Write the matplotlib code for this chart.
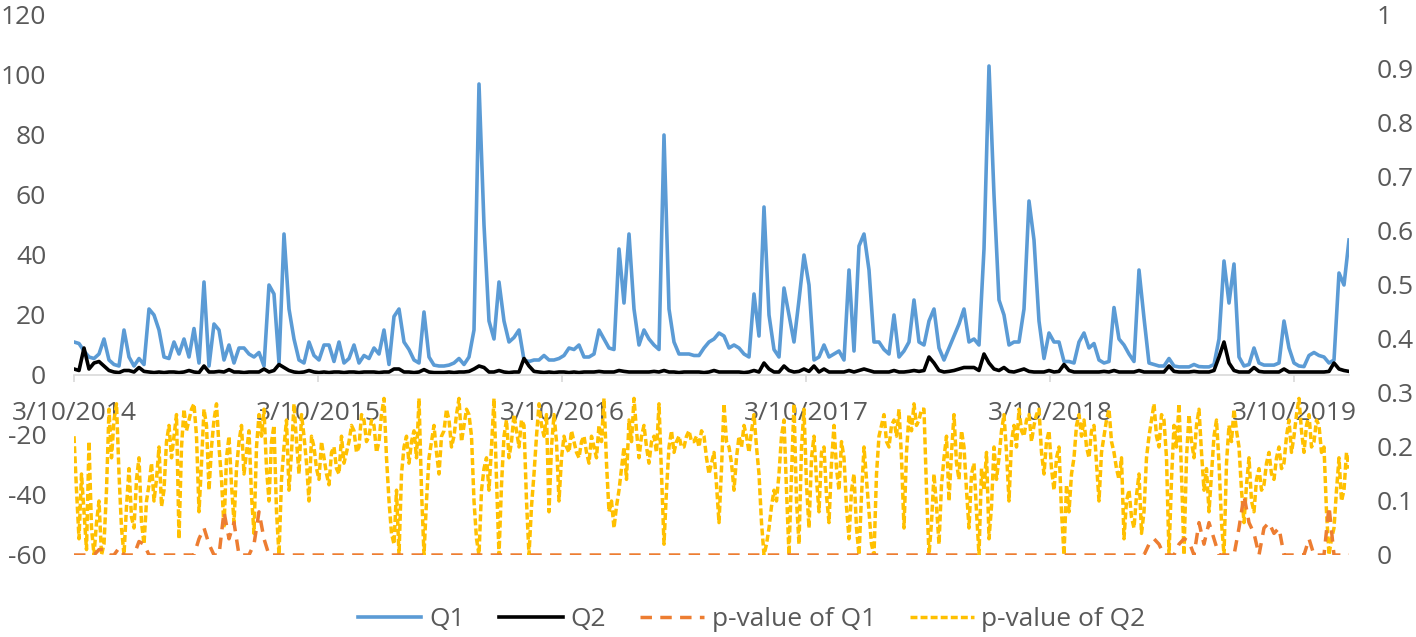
import numpy as np
import matplotlib
matplotlib.use('Agg')
import matplotlib.pyplot as plt

plt.rcParams['font.family'] = ['Open Sans', 'DejaVu Sans']
plt.rcParams['axes.unicode_minus'] = False

# valores (un punto cada ~5 px)
q1 = [11, 10.5, 8, 6, 5.5, 7, 12, 5, 3.5, 3,
      15, 6, 3, 5.5, 3.5, 22, 20, 15, 6, 5.5,
      11, 7, 12, 6, 15.5, 4, 31, 3, 17, 15,
      5, 10, 4, 9, 9, 7, 6, 7.5, 3, 30,
      27, 4, 47, 22, 12, 5, 4, 11, 6.5, 5,
      10, 10, 4.5, 11, 4, 5.5, 10, 4, 6.5, 5.5,
      9, 7, 15, 3.5, 19.5, 22, 11, 8.5, 5, 4,
      21, 6, 3.3, 3, 3, 3.3, 4, 5.5, 3.5, 6,
      15, 97, 50, 18, 12, 31, 18, 11, 12.5, 15,
      5, 4.5, 5, 5, 6.5, 5, 5, 5.5, 6.5, 9,
      8.5, 10, 6, 6, 7, 15, 12, 9, 8.5, 42,
      24, 47, 22, 10, 15, 12, 10, 8.5, 80, 22,
      11, 7, 7, 7, 6.5, 6.5, 9, 11, 12, 14,
      13, 9, 10, 9, 7, 6, 27, 13, 56, 20,
      8.5, 6, 29, 20, 11, 25, 40, 30, 5, 6,
      10, 6, 7, 8, 5, 35, 8, 43, 47, 35,
      11, 11, 8.5, 7, 20, 6, 8, 11, 25, 11,
      10, 18, 22, 9, 5, 9, 13, 17, 22, 11,
      12, 10, 42, 103, 60, 25, 20, 10, 11, 11,
      22, 58, 45, 18, 5.5, 14, 11, 11, 4.5, 4.5,
      4, 11, 14, 9, 10.5, 5, 4, 4.5, 22.5, 12,
      10, 7, 4.5, 35, 19, 4, 3.5, 3, 3, 5.5,
      3, 2.7, 2.7, 2.7, 3.5, 2.8, 2.7, 2.7, 3.5, 12,
      38, 24, 37, 6, 3, 3.5, 9, 4, 3.3, 3.3,
      3.3, 4, 18, 9, 4, 3, 2.8, 6.5, 7.5, 6.5,
      6, 4, 5, 34, 30, 45]

q2 = [2, 1.5, 9, 2, 4, 4.5, 3, 1.5, 1, 0.8,
      1.5, 1.5, 1, 2.5, 1.2, 1, 0.8, 1, 0.8, 1,
      1, 0.8, 1, 1.5, 1, 0.8, 3, 1, 1, 1.2,
      1, 1.8, 1, 1, 0.8, 1, 1, 1, 2, 1,
      1.5, 3.5, 2.5, 1.5, 1, 0.8, 1, 1.5, 1, 0.8,
      1, 0.8, 1, 1, 0.8, 1, 1, 0.8, 1, 1,
      1, 0.8, 1, 1, 2, 2, 1, 1, 0.8, 1,
      1.8, 1, 0.8, 0.8, 0.8, 1, 0.8, 1, 1, 1.2,
      2, 3, 2.5, 1, 1, 1.5, 1, 0.8, 1, 1,
      5.5, 3, 1.2, 1, 0.8, 1, 0.8, 1, 1, 0.8,
      1, 0.8, 1, 1, 1, 1.2, 1, 1, 1, 1.5,
      1.2, 1, 1, 1, 1, 1, 1.2, 1, 1.5, 1,
      1, 0.8, 1, 1, 1, 1, 0.8, 1, 1.5, 1,
      1, 1, 1, 1, 0.8, 1, 1.5, 1, 4, 2,
      1, 1, 3, 1.5, 1, 1.2, 2, 1.2, 3, 1,
      2, 1, 1, 1, 1, 1.5, 1, 1.5, 2, 1.5,
      1, 1, 1, 1, 1.5, 1, 1, 1.2, 1.5, 1.2,
      1.5, 6, 4, 1.5, 1, 1.2, 1.5, 2, 2.5, 2.5,
      2.5, 1.5, 7, 4, 2, 1.5, 2.5, 1.2, 1, 1.5,
      2, 1.2, 1, 1, 1, 1.5, 1, 1.2, 3.5, 1.5,
      1, 1, 1, 1, 1, 1, 1.2, 1, 1.5, 1,
      1, 1, 1, 1.5, 1, 1, 1, 1, 1, 3,
      1.2, 1, 1, 1, 1.2, 1, 1, 1, 1.5, 6,
      11, 4, 1.5, 1, 1, 1, 2.5, 1.2, 1, 1,
      1, 1, 2, 1, 1, 1, 1, 1, 1, 1,
      1, 1.2, 4, 2, 1.5, 1.2]

p_q1 = ([0, 0, 0, 0, 0, 0.01, 0.01, 0, 0, 0.013,
         0, 0, 0, 0.025, 0.02, 0, 0, 0, 0, 0,
         0, 0, 0, 0, 0, 0.03, 0.05, 0.02, 0, 0,
         0.08, 0.03, 0.06, 0, 0, 0, 0.02, 0.08, 0.03, 0]
        + [0.0] * 170
        + [0, 0, 0, 0, 0, 0.02, 0.03, 0.02, 0, 0,
           0, 0.02, 0.03, 0.025, 0, 0.06, 0.02, 0.06, 0.03, 0,
           0, 0, 0, 0.05, 0.11, 0.06, 0.04, 0, 0.05, 0.06,
           0.04, 0.05, 0, 0, 0, 0, 0, 0.03, 0, 0,
           0, 0.09, 0, 0, 0, 0])

# p-value de Q2: mas denso (un punto cada ~2.5 px)
p_q2 = [0.22, 0.12, 0.03, 0.15, 0.08, 0.01, 0.21, 0.05, 0.00, 0.06, 0.10, 0.00, 0.02, 0.12, 0.27, 0.18, 0.25, 0.28, 0.15, 0.05,
        0.00, 0.09, 0.16, 0.07, 0.05, 0.14, 0.18, 0.06, 0.02, 0.10, 0.13, 0.17, 0.10, 0.14, 0.20, 0.09, 0.12, 0.21, 0.24, 0.18,
        0.22, 0.26, 0.03, 0.20, 0.27, 0.23, 0.25, 0.27, 0.28, 0.22, 0.08, 0.17, 0.27, 0.24, 0.12, 0.20, 0.25, 0.28, 0.20, 0.14,
        0.05, 0.18, 0.22, 0.13, 0.06, 0.16, 0.21, 0.24, 0.15, 0.19, 0.23, 0.11, 0.04, 0.20, 0.26, 0.22, 0.27, 0.16, 0.10, 0.21,
        0.24, 0.08, 0.00, 0.14, 0.20, 0.25, 0.12, 0.19, 0.28, 0.21, 0.15, 0.26, 0.22, 0.17, 0.10, 0.22, 0.20, 0.16, 0.14, 0.21,
        0.18, 0.15, 0.13, 0.19, 0.20, 0.16, 0.15, 0.22, 0.17, 0.19, 0.21, 0.24, 0.23, 0.19, 0.20, 0.26, 0.25, 0.21, 0.22, 0.25,
        0.24, 0.19, 0.21, 0.26, 0.29, 0.18, 0.10, 0.04, 0.02, 0.12, 0.00, 0.15, 0.20, 0.22, 0.17, 0.21, 0.23, 0.18, 0.29, 0.12,
        0.00, 0.10, 0.18, 0.21, 0.24, 0.19, 0.15, 0.22, 0.23, 0.27, 0.25, 0.20, 0.22, 0.26, 0.29, 0.21, 0.24, 0.27, 0.26, 0.22,
        0.10, 0.03, 0.00, 0.12, 0.16, 0.18, 0.12, 0.20, 0.29, 0.14, 0.00, 0.13, 0.22, 0.25, 0.18, 0.21, 0.26, 0.23, 0.20, 0.25,
        0.24, 0.10, 0.00, 0.09, 0.15, 0.22, 0.28, 0.24, 0.22, 0.26, 0.08, 0.20, 0.26, 0.21, 0.10, 0.18, 0.22, 0.20, 0.19, 0.23,
        0.21, 0.19, 0.18, 0.21, 0.22, 0.19, 0.17, 0.22, 0.20, 0.18, 0.24, 0.21, 0.29, 0.17, 0.08, 0.10, 0.05, 0.09, 0.12, 0.16,
        0.20, 0.14, 0.25, 0.21, 0.29, 0.23, 0.18, 0.22, 0.24, 0.20, 0.17, 0.21, 0.22, 0.19, 0.28, 0.15, 0.02, 0.12, 0.20, 0.23,
        0.19, 0.21, 0.22, 0.20, 0.20, 0.22, 0.23, 0.21, 0.21, 0.22, 0.20, 0.23, 0.22, 0.18, 0.15, 0.17, 0.19, 0.13, 0.06, 0.16,
        0.28, 0.21, 0.20, 0.17, 0.12, 0.18, 0.22, 0.20, 0.24, 0.22, 0.19, 0.23, 0.26, 0.20, 0.15, 0.06, 0.00, 0.02, 0.05, 0.09,
        0.12, 0.10, 0.15, 0.22, 0.25, 0.12, 0.00, 0.15, 0.28, 0.10, 0.02, 0.20, 0.27, 0.13, 0.05, 0.18, 0.22, 0.14, 0.08, 0.19,
        0.20, 0.11, 0.06, 0.17, 0.24, 0.16, 0.12, 0.21, 0.18, 0.09, 0.03, 0.12, 0.15, 0.05, 0.00, 0.11, 0.20, 0.14, 0.08, 0.02,
        0.00, 0.15, 0.22, 0.24, 0.26, 0.21, 0.20, 0.24, 0.25, 0.22, 0.27, 0.18, 0.05, 0.19, 0.26, 0.23, 0.28, 0.24, 0.25, 0.27,
        0.27, 0.12, 0.00, 0.06, 0.15, 0.09, 0.02, 0.13, 0.18, 0.22, 0.10, 0.19, 0.26, 0.17, 0.14, 0.23, 0.20, 0.12, 0.05, 0.15,
        0.17, 0.08, 0.00, 0.16, 0.12, 0.19, 0.03, 0.09, 0.20, 0.14, 0.18, 0.23, 0.26, 0.19, 0.10, 0.21, 0.24, 0.20, 0.27, 0.23,
        0.22, 0.25, 0.26, 0.21, 0.24, 0.26, 0.27, 0.19, 0.15, 0.21, 0.23, 0.16, 0.12, 0.18, 0.20, 0.08, 0.00, 0.13, 0.08, 0.15,
        0.18, 0.24, 0.26, 0.22, 0.25, 0.20, 0.18, 0.23, 0.24, 0.17, 0.10, 0.19, 0.22, 0.25, 0.27, 0.21, 0.19, 0.16, 0.14, 0.18,
        0.03, 0.10, 0.12, 0.07, 0.05, 0.11, 0.15, 0.04, 0.08, 0.18, 0.22, 0.25, 0.28, 0.22, 0.20, 0.26, 0.25, 0.18, 0.00, 0.14,
        0.24, 0.20, 0.28, 0.15, 0.00, 0.18, 0.26, 0.21, 0.18, 0.24, 0.27, 0.19, 0.12, 0.16, 0.08, 0.15, 0.22, 0.25, 0.17, 0.06,
        0.00, 0.17, 0.24, 0.21, 0.27, 0.23, 0.20, 0.12, 0.06, 0.13, 0.18, 0.10, 0.08, 0.14, 0.16, 0.12, 0.13, 0.17, 0.19, 0.15,
        0.14, 0.18, 0.20, 0.16, 0.17, 0.22, 0.25, 0.19, 0.22, 0.26, 0.29, 0.23, 0.19, 0.24, 0.26, 0.20, 0.21, 0.25, 0.24, 0.19,
        0.20, 0.08, 0.00, 0.03, 0.05, 0.12, 0.18, 0.10, 0.12, 0.19, 0.16]

date_labels = ['3/10/2014', '3/10/2015', '3/10/2016', '3/10/2017', '3/10/2018', '3/10/2019']
x = np.arange(len(q1))
x_fine = np.arange(len(p_q2)) * 0.5
tick_pos = np.arange(len(date_labels)) * 48.8

gray = '#595959'
fig = plt.figure(figsize=(14.16, 6.37), dpi=100)
ax = fig.add_axes([74 / 1416, 1 - 555 / 637, 1275 / 1416, 540 / 637])
ax2 = ax.twinx()

l1, = ax.plot(x, q1, color='#5B9BD5', lw=2.6, label='Q1')
l2, = ax.plot(x, q2, color='black', lw=2.6, label='Q2')
l4, = ax2.plot(x_fine, p_q2, color='#FFC000', lw=2.5, dashes=(2, 0.9), label='p-value of Q2')
l3, = ax2.plot(x, p_q1, color='#ED7D31', lw=2.5, dashes=(3.3, 2.4), label='p-value of Q1')

ax.set_xlim(0, 255)
ax.set_ylim(-60, 120)
ax2.set_ylim(0, 1)

for s in ['top', 'left', 'right']:
    ax.spines[s].set_visible(False)
for s in ax2.spines.values():
    s.set_visible(False)
# eje horizontal en y=0
ax.spines['bottom'].set_position(('data', 0))
ax.spines['bottom'].set_color('#d9d9d9')
ax.spines['bottom'].set_linewidth(1.2)

ax.set_xticks(tick_pos)
ax.set_xticklabels(date_labels)
ax.tick_params(axis='x', length=5, width=1.2, color='#d9d9d9', labelcolor=gray, labelsize=19, pad=14)
ax.set_yticks(range(-60, 121, 20))
ax.tick_params(axis='y', length=0, labelcolor=gray, labelsize=19, pad=20)

ax2.set_yticks(np.arange(0, 1.01, 0.1))
ax2.set_yticklabels(['0', '0.1', '0.2', '0.3', '0.4', '0.5', '0.6', '0.7', '0.8', '0.9', '1'])
ax2.tick_params(axis='y', length=0, labelcolor=gray, labelsize=19, pad=20)

leg = fig.legend(handles=[l1, l2, l3, l4], loc='center', bbox_to_anchor=(0.531, 0.027),
                 ncol=4, frameon=False, fontsize=19, handlelength=2.4,
                 columnspacing=1.3, handletextpad=0.3)
for t in leg.get_texts():
    t.set_color(gray)

fig.savefig('out.png', dpi=100)
